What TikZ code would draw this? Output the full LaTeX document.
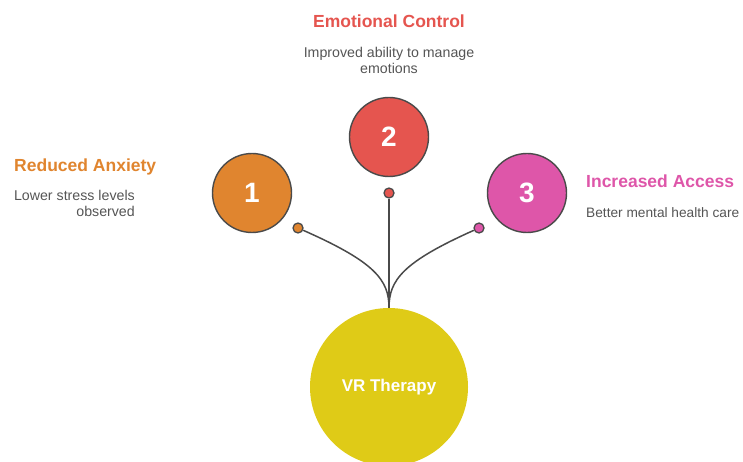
\documentclass[tikz,border=0pt]{standalone}
\usepackage{fontspec}
\setmainfont{Liberation Sans}
\definecolor{anxorange}{HTML}{E0852F}
\definecolor{emored}{HTML}{E5554F}
\definecolor{accpink}{HTML}{DE56A9}
\definecolor{vryellow}{HTML}{DFCB17}
\definecolor{linegray}{HTML}{4A4A4A}
\definecolor{descgray}{HTML}{555555}

\begin{document}
\begin{tikzpicture}[x=1pt,y=-1pt,
        bubble/.style={circle,draw=linegray,line width=1.4pt,minimum size=79pt,inner sep=0pt,
            text=white,font=\bfseries\fontsize{28}{28}\selectfont},
        dot/.style={circle,draw=linegray,line width=1.3pt,minimum size=10pt,inner sep=0pt},
        head/.style={font=\bfseries\fontsize{17.5}{20}\selectfont,inner sep=0pt},
        desc/.style={text=descgray,font=\fontsize{14.2}{16.5}\selectfont,inner sep=0pt},
        link/.style={draw=linegray,line width=1.5pt}]
        \clip (0,0) rectangle (743,462);
        % hub
        \node[circle,fill=vryellow,minimum size=158pt,inner sep=0pt,text=white,
            font=\bfseries\fontsize{17}{17}\selectfont] (vr) at (389,387) {VR Therapy};
        % the three numbered bubbles
        \node[bubble,fill=anxorange] (b1) at (252,193) {1};
        \node[bubble,fill=emored] (b2) at (389,137) {2};
        \node[bubble,fill=accpink] (b3) at (527,193) {3};
        \node[dot,fill=anxorange] (d1) at (298,228) {};
        \node[dot,fill=emored] (d2) at (389,193) {};
        \node[dot,fill=accpink] (d3) at (479,228) {};
        % connectors
        \draw[link] (d1) .. controls (375,262) and (389,280) .. (vr.north);
        \draw[link] (d2) -- (vr.north);
        \draw[link] (d3) .. controls (403,262) and (389,280) .. (vr.north);
        % labels
        \node[head,text=anxorange,anchor=base west] (t1) at (14,172) {Reduced Anxiety};
        \node[desc,align=right,anchor=north east] (s1) at (135,190) {Lower stress levels\\observed};
        \node[head,text=emored,anchor=base] (t2) at (389,28) {Emotional Control};
        \node[desc,align=center,anchor=north] (s2) at (389,47) {Improved ability to manage\\emotions};
        \node[head,text=accpink,anchor=base west] (t3) at (586,188) {Increased Access};
        \node[desc,font=\fontsize{13.7}{16.5}\selectfont,anchor=base west] (s3) at (586,218) {Better mental health care};
    \end{tikzpicture}
\end{document}
